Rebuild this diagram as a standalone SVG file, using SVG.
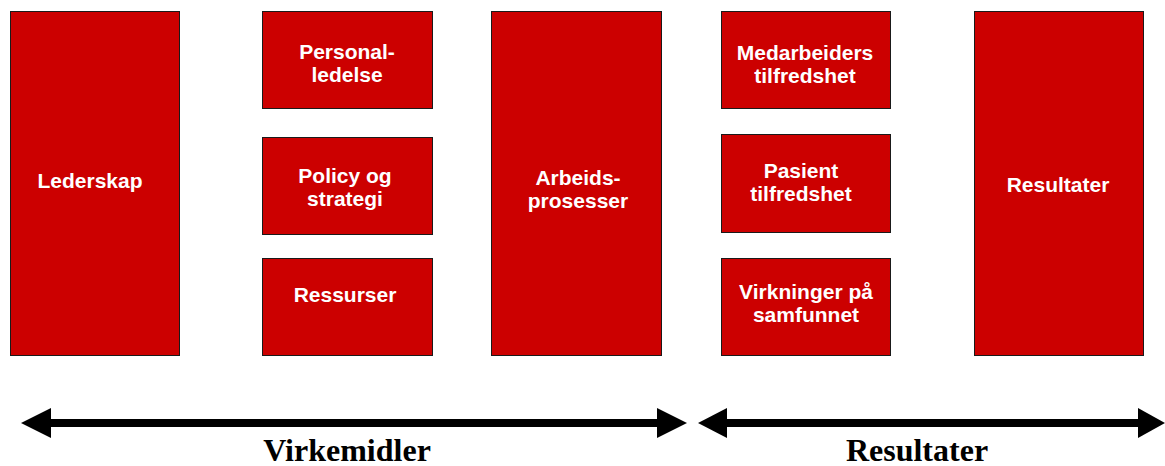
<svg xmlns="http://www.w3.org/2000/svg" width="1165" height="466" viewBox="0 0 1165 466">
  <style>
    .box { fill: #CC0000; stroke: #1a1a1a; stroke-width: 1; }
    .lbl { fill: #ffffff; font-family: "Liberation Sans", Arial, sans-serif; font-weight: bold; font-size: 21px; text-anchor: middle; }
    .cap { fill: #000000; font-family: "Liberation Serif", "Times New Roman", serif; font-weight: bold; font-size: 32px; text-anchor: middle; }
    .shaft { stroke: #000000; stroke-width: 8; }
    .head { fill: #000000; }
  </style>
  <rect width="1165" height="466" fill="#ffffff"/>

  <g id="ledersk">
    <rect class="box" x="10.5" y="11.5" width="169" height="344"/>
    <text class="lbl" x="90" y="188">Lederskap</text>
  </g>
  <g id="personalledelse">
    <rect class="box" x="262.5" y="11.5" width="170" height="97"/>
    <text class="lbl" x="347" y="59">Personal-</text>
    <text class="lbl" x="347" y="82">ledelse</text>
  </g>
  <g id="policy">
    <rect class="box" x="262.5" y="137.5" width="170" height="97"/>
    <text class="lbl" x="345" y="183">Policy og</text>
    <text class="lbl" x="345" y="206">strategi</text>
  </g>
  <g id="ressurser">
    <rect class="box" x="262.5" y="258.5" width="170" height="97"/>
    <text class="lbl" x="345" y="302">Ressurser</text>
  </g>
  <g id="arbeidsprosesser">
    <rect class="box" x="491.5" y="11.5" width="170" height="344"/>
    <text class="lbl" x="578" y="185">Arbeids-</text>
    <text class="lbl" x="578" y="208">prosesser</text>
  </g>
  <g id="medarbeiders">
    <rect class="box" x="721.5" y="11.5" width="169" height="97"/>
    <text class="lbl" x="805" y="60">Medarbeiders</text>
    <text class="lbl" x="805" y="83">tilfredshet</text>
  </g>
  <g id="pasient">
    <rect class="box" x="721.5" y="134.5" width="169" height="98"/>
    <text class="lbl" x="801" y="178">Pasient</text>
    <text class="lbl" x="801" y="201">tilfredshet</text>
  </g>
  <g id="virkninger">
    <rect class="box" x="721.5" y="258.5" width="169" height="97"/>
    <text class="lbl" x="806" y="299">Virkninger på</text>
    <text class="lbl" x="806" y="322">samfunnet</text>
  </g>
  <g id="resultater">
    <rect class="box" x="974.5" y="11.5" width="169" height="344"/>
    <text class="lbl" x="1058" y="192">Resultater</text>
  </g>

  <g id="connectors">
    <line class="shaft" x1="50" y1="423" x2="658" y2="423"/>
    <polygon class="head" points="21,423 51,408 51,438"/>
    <polygon class="head" points="687,423 657,408 657,438"/>
    <line class="shaft" x1="726" y1="423" x2="1139" y2="423"/>
    <polygon class="head" points="698,423 727,408 727,438"/>
    <polygon class="head" points="1165,423 1138,408 1138,438"/>
  </g>

  <text class="cap" x="347" y="461">Virkemidler</text>
  <text class="cap" x="917" y="461">Resultater</text>
</svg>
